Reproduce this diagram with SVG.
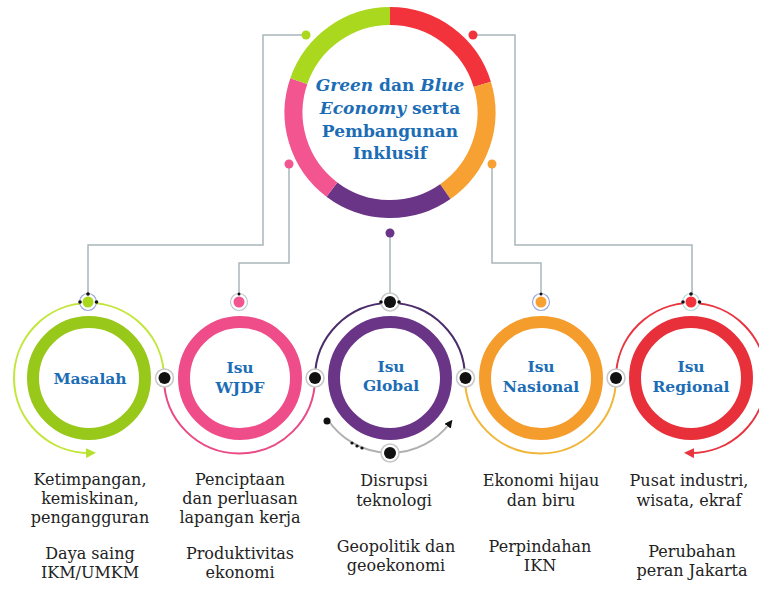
<svg xmlns="http://www.w3.org/2000/svg" width="759" height="590" viewBox="0 0 759 590">
<defs>
<style>
.lbl{font-family:"DejaVu Serif","Liberation Serif",serif;font-weight:bold;fill:#1c6db5;text-anchor:middle}
.ttl{font-size:17px}
.sub{font-size:15.5px}
.desc{font-family:"DejaVu Serif","Liberation Serif",serif;font-size:16px;fill:#222;text-anchor:middle}
.conn{fill:none;stroke:#a9b5b8;stroke-width:1.5}
.ring{fill:none;stroke-width:12}
.big{fill:none;stroke-width:18}
.arc{fill:none;stroke-width:2}
.jo{fill:#fff;stroke:#c8c8c8;stroke-width:1.5}
.ji{fill:#111}
.tn{fill:#fff;stroke:#9aa8d8;stroke-width:1.2}
.dot{fill:#111}
</style>
<marker id="ahG" viewBox="0 0 10 10" refX="5" refY="5" markerWidth="10" markerHeight="10" orient="auto" markerUnits="userSpaceOnUse"><path d="M0,0 L10,5 L0,10 z" fill="#b6e030"/></marker>
<marker id="ahR" viewBox="0 0 10 10" refX="5" refY="5" markerWidth="10" markerHeight="10" orient="auto" markerUnits="userSpaceOnUse"><path d="M0,0 L10,5 L0,10 z" fill="#e8353f"/></marker>
<marker id="ahK" viewBox="0 0 10 10" refX="5" refY="5" markerWidth="8" markerHeight="8" orient="auto" markerUnits="userSpaceOnUse"><path d="M0,0 L10,5 L0,10 z" fill="#111"/></marker>
</defs>
<rect width="759" height="590" fill="#fff"/>

<g id="connectors">
<polyline class="conn" points="306,35 263,35 263,245 88,245 88,294"/>
<polyline class="conn" points="289,164 289,263 239,263 239,294"/>
<polyline class="conn" points="390,233 390,294"/>
<polyline class="conn" points="492,164 492,263 541,263 541,294"/>
<polyline class="conn" points="473,35 515,35 515,245 692,245 692,294"/>
<path class="arc" stroke="#c2e63a" d="M164,378 A75,75 0 1 0 91,453" marker-end="url(#ahG)"/>
<path class="arc" stroke="#ea4a85" d="M164,378 A75,75 0 0 0 315,378"/>
<path class="arc" stroke="#4b2d6b" d="M315,378 A75,75 0 0 1 465,378"/>
<path class="arc" stroke="#f0b63a" d="M465,378 A75,75 0 0 0 616,378"/>
<path class="arc" stroke="#e8353f" d="M616,378 A75,75 0 1 1 689,453" marker-end="url(#ahR)"/>
<path class="arc" stroke="#b0b0b0" stroke-width="1.5" d="M328,420 A75,75 0 0 0 450,423" marker-end="url(#ahK)"/>
</g>

<g id="center">
<path class="big" stroke="#f2333b" d="M390,16 A96.5,96.5 0 0 1 482.3,84.3"/>
<path class="big" stroke="#f8a133" d="M482.3,84.3 A96.5,96.5 0 0 1 445.3,191.6"/>
<path class="big" stroke="#6a3587" d="M445.3,191.6 A96.5,96.5 0 0 1 331.9,189.6"/>
<path class="big" stroke="#f25590" d="M331.9,189.6 A96.5,96.5 0 0 1 298.8,81.1"/>
<path class="big" stroke="#a9d81f" d="M298.8,81.1 A96.5,96.5 0 0 1 390,16"/>
<circle cx="306" cy="35" r="4.5" fill="#a9d81f"/>
<circle cx="473" cy="35" r="4.5" fill="#f2333b"/>
<circle cx="289" cy="164" r="4.5" fill="#f25590"/>
<circle cx="492" cy="164" r="4.5" fill="#f8a133"/>
<circle cx="390" cy="233" r="4.5" fill="#6a3587"/>
<text class="lbl ttl" x="390" y="91"><tspan font-style="italic">Green</tspan> dan <tspan font-style="italic">Blue</tspan></text>
<text class="lbl ttl" x="390" y="114"><tspan font-style="italic">Economy</tspan> serta</text>
<text class="lbl ttl" x="390" y="137">Pembangunan</text>
<text class="lbl ttl" x="390" y="159">Inklusif</text>
</g>

<g id="masalah">
<circle class="ring" cx="89" cy="378" r="56" stroke="#98c81a"/>
<circle class="tn" cx="88" cy="302" r="8.5"/>
<circle cx="88" cy="302" r="5.5" fill="#a9d81f"/>
<circle class="dot" cx="88" cy="294" r="1.8"/>
<circle class="dot" cx="80" cy="302" r="1.8"/>
<circle class="dot" cx="96.5" cy="302" r="1.8"/>
<text class="lbl sub" x="90" y="384">Masalah</text>
<text class="desc" x="90" y="485">Ketimpangan,</text>
<text class="desc" x="90" y="504">kemiskinan,</text>
<text class="desc" x="90" y="523">pengangguran</text>
<text class="desc" x="90" y="559">Daya saing</text>
<text class="desc" x="90" y="578">IKM/UMKM</text>
</g>

<g id="wjdf">
<circle class="ring" cx="240" cy="378" r="56" stroke="#ef4d8a"/>
<circle cx="239" cy="302" r="8.5" fill="#fff" stroke="#c0c8cc" stroke-width="1.2"/>
<circle cx="239" cy="302" r="5.5" fill="#f25590"/>
<circle class="dot" cx="239" cy="294" r="1.5"/>
<text class="lbl sub" x="240" y="373">Isu</text>
<text class="lbl sub" x="240" y="393">WJDF</text>
<text class="desc" x="240" y="485">Penciptaan</text>
<text class="desc" x="240" y="504">dan perluasan</text>
<text class="desc" x="240" y="523">lapangan kerja</text>
<text class="desc" x="240" y="559">Produktivitas</text>
<text class="desc" x="240" y="578">ekonomi</text>
</g>

<g id="global">
<circle class="ring" cx="390" cy="378" r="56" stroke="#6a3587"/>
<circle class="jo" cx="390" cy="302" r="9"/>
<circle class="ji" cx="390" cy="302" r="6"/>
<circle class="dot" cx="381" cy="302" r="1.8"/>
<circle class="dot" cx="399" cy="302" r="1.8"/>
<circle class="jo" cx="390" cy="453" r="9"/>
<circle class="ji" cx="390" cy="453" r="6"/>
<circle class="dot" cx="327" cy="421" r="3.5"/>
<circle class="dot" cx="352" cy="443" r="1.6"/>
<circle class="dot" cx="357" cy="446" r="1.6"/>
<circle class="dot" cx="362" cy="448" r="1.6"/>
<text class="lbl sub" x="391" y="372">Isu</text>
<text class="lbl sub" x="391" y="391">Global</text>
<text class="desc" x="394" y="486">Disrupsi</text>
<text class="desc" x="394" y="506">teknologi</text>
<text class="desc" x="396" y="552">Geopolitik dan</text>
<text class="desc" x="396" y="571">geoekonomi</text>
</g>

<g id="nasional">
<circle class="ring" cx="541" cy="378" r="56" stroke="#f59d2c"/>
<circle class="tn" cx="541" cy="302" r="8.5"/>
<circle cx="541" cy="302" r="5.5" fill="#f8a133"/>
<circle class="dot" cx="541" cy="294" r="1.5"/>
<text class="lbl sub" x="541" y="372">Isu</text>
<text class="lbl sub" x="541" y="392">Nasional</text>
<text class="desc" x="541" y="486">Ekonomi hijau</text>
<text class="desc" x="541" y="506">dan biru</text>
<text class="desc" x="540" y="552">Perpindahan</text>
<text class="desc" x="540" y="571">IKN</text>
</g>

<g id="regional">
<circle class="ring" cx="691" cy="378" r="56" stroke="#e8303b"/>
<circle cx="691" cy="302" r="8.5" fill="#fff" stroke="#b8dcd8" stroke-width="1.2"/>
<circle cx="691" cy="302" r="5.5" fill="#f2333b"/>
<circle class="dot" cx="691" cy="294" r="1.8"/>
<circle class="dot" cx="683" cy="302" r="1.8"/>
<circle class="dot" cx="699.5" cy="302" r="1.8"/>
<text class="lbl sub" x="691" y="372">Isu</text>
<text class="lbl sub" x="691" y="392">Regional</text>
<text class="desc" x="689" y="486">Pusat industri,</text>
<text class="desc" x="689" y="506">wisata, ekraf</text>
<text class="desc" x="692" y="557">Perubahan</text>
<text class="desc" x="692" y="576">peran Jakarta</text>
</g>

<g id="junctions">
<circle class="jo" cx="164.5" cy="378" r="9"/>
<circle class="ji" cx="164.5" cy="378" r="6"/>
<circle class="jo" cx="315" cy="378" r="9"/>
<circle class="ji" cx="315" cy="378" r="6"/>
<circle class="jo" cx="465.5" cy="378" r="9"/>
<circle class="ji" cx="465.5" cy="378" r="6"/>
<circle class="jo" cx="616" cy="378" r="9"/>
<circle class="ji" cx="616" cy="378" r="6"/>
</g>
</svg>
